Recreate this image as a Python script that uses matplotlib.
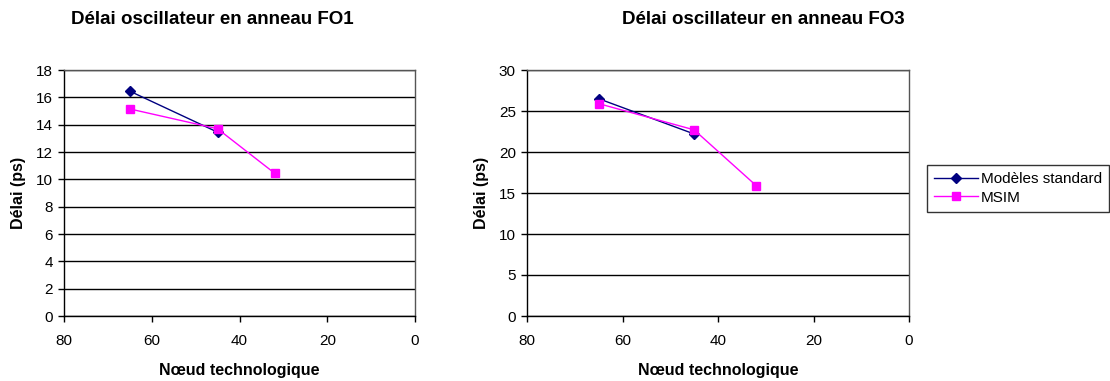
import matplotlib
matplotlib.use("Agg")
import matplotlib.pyplot as plt
from matplotlib.ticker import MultipleLocator

plt.rcParams['font.family'] = ['Liberation Sans', 'DejaVu Sans']

# Data
nodes_std = [65, 45]
nodes_msim = [65, 45, 32]
fo1_std = [16.45, 13.45]
fo1_msim = [15.15, 13.7, 10.45]
fo3_std = [26.5, 22.2]
fo3_msim = [25.9, 22.7, 15.9]

titles = ["Délai oscillateur en anneau FO1", "Délai oscillateur en anneau FO3"]
series_names = ["Modèles standard", "MSIM"]
xlabel = "Nœud technologique"
ylabel = "Délai (ps)"

W, H = 1110, 381
fig = plt.figure(figsize=(W / 100, H / 100), dpi=100)

def add_ax(x0, x1, y0, y1):
    return fig.add_axes([x0 / W, 1 - y1 / H, (x1 - x0) / W, (y1 - y0) / H])

ax1 = add_ax(64, 415, 70, 316)
ax2 = add_ax(527, 909, 70, 316)

navy = "#000080"
mag = "#FF00FF"

configs = [
    (ax1, fo1_std, fo1_msim, 18, 2),
    (ax2, fo3_std, fo3_msim, 30, 5),
]
handles = None
for ax, std, msim, ymax, step in configs:
    h1, = ax.plot(nodes_std, std, color=navy, marker="D", markersize=5, lw=1, label=series_names[0])
    h2, = ax.plot(nodes_msim, msim, color=mag, marker="s", markersize=6, lw=1, label=series_names[1])
    handles = [h1, h2]
    ax.set_xlim(80, 0)
    ax.set_ylim(0, ymax)
    ax.xaxis.set_major_locator(MultipleLocator(20))
    ax.yaxis.set_major_locator(MultipleLocator(step))
    ax.grid(axis="y", color="black", lw=1)
    ax.set_axisbelow(True)
    for s in ["left", "bottom"]:
        ax.spines[s].set_color("black")
        ax.spines[s].set_linewidth(1)
    for s in ["top", "right"]:
        ax.spines[s].set_color("#555555")
        ax.spines[s].set_linewidth(1)
    ax.tick_params(direction="out", length=4, width=1, labelsize=11, colors="black", pad=4)
    ax.tick_params(axis="x", pad=9)
    ax.set_xlabel(xlabel, fontsize=11.5, fontweight="bold", labelpad=11)
    ax.set_ylabel(ylabel, fontsize=11.5, fontweight="bold", labelpad=7)

fig.text(212 / W, 1 - 19 / H, titles[0], ha="center", va="center", fontsize=13.5, fontweight="bold")
fig.text(763 / W, 1 - 19 / H, titles[1], ha="center", va="center", fontsize=13.5, fontweight="bold")

leg = fig.legend(handles, series_names, loc="center left", bbox_to_anchor=(927 / W, 1 - 188.5 / H),
                 fontsize=11, frameon=True, fancybox=False, edgecolor="black",
                 handlelength=2.9, borderpad=0.45, labelspacing=0.3, handletextpad=0.2, borderaxespad=0)
leg.get_frame().set_linewidth(1)

fig.savefig("out.png", dpi=100)
